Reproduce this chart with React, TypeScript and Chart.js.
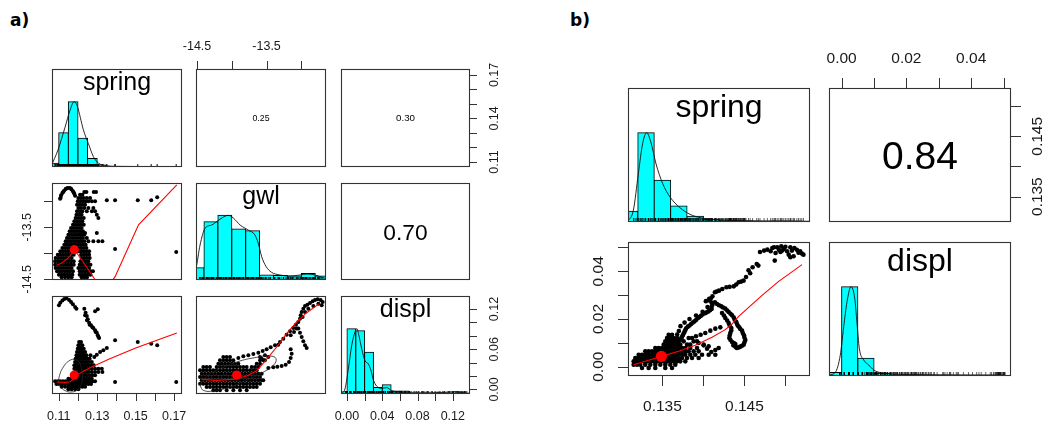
import React, { useEffect, useRef } from "react";
import { Chart, registerables } from "chart.js";
Chart.register(...registerables);

type P = [number, number];
type Row = [number, number[]];

// ================= Figure a) =================
const A_VARS = ["spring", "gwl", "displ"];
const A_COR = [0.25, 0.3, 0.7]; // spring-gwl, spring-displ, gwl-displ
const A_SPRING_LIM = [0.1065, 0.1741];
const A_GWL_LIM = [-14.515, -12.645];
const A_DISPL_LIM = [-0.0068, 0.1395];
const HIST_LIM = [0, 1.5];

const A_SPRING_TICKS = [0.11, 0.12, 0.13, 0.14, 0.15, 0.16, 0.17];
const A_SPRING_LABELS_RIGHT = ["0.11", "0.14", "0.17"];
const A_SPRING_LABELS_BOTTOM = ["0.11", "0.13", "0.15", "0.17"];
const A_GWL_TICKS = [-14.5, -14, -13.5, -13];
const A_GWL_LABELS = ["-14.5", "-13.5"];
const A_DISPL_TICKS = [0, 0.02, 0.04, 0.06, 0.08, 0.1, 0.12];
const A_DISPL_LABELS_BOTTOM = ["0.00", "0.04", "0.08", "0.12"];
const A_DISPL_LABELS_RIGHT = ["0.00", "0.06", "0.12"];

// histograms (heights relative to tallest bar)
const A_SPRING_BREAKS = [0.105, 0.11, 0.115, 0.12, 0.125, 0.13, 0.135, 0.14, 0.145, 0.15, 0.155, 0.16, 0.165, 0.17, 0.175];
const A_SPRING_HIST = [0.057, 0.525, 1.0, 0.44, 0.13, 0.03, 0.006, 0, 0, 0.004, 0.004, 0.004, 0, 0.004];
const A_GWL_BREAKS = [-14.6, -14.4, -14.2, -14.0, -13.8, -13.6, -13.4, -13.2, -13.0, -12.8, -12.6];
const A_GWL_HIST = [0.19, 0.9, 1.0, 0.79, 0.76, 0.077, 0.068, 0.06, 0.1, 0.06];
const A_DISPL_BREAKS = [-0.01, 0, 0.01, 0.02, 0.03, 0.04, 0.05, 0.06, 0.07, 0.08, 0.09, 0.1, 0.11, 0.12, 0.13, 0.14];
const A_DISPL_HIST = [0.035, 1.0, 0.97, 0.64, 0.1, 0.14, 0.047, 0.047, 0.015, 0.015, 0.012, 0.012, 0.02, 0.02, 0.015];

// density curves (relative)
const A_SPRING_DENS: P[] = [[0.106, 0.01], [0.1096, 0.26], [0.1133, 0.61], [0.1159, 0.87], [0.118, 1.0], [0.1197, 0.93], [0.1212, 0.76], [0.1228, 0.57], [0.1254, 0.36], [0.128, 0.16], [0.1306, 0.06], [0.1349, 0.02], [0.14, 0.01], [0.175, 0.005]];
const A_GWL_DENS: P[] = [[-14.58, 0.04], [-14.515, 0.18], [-14.457, 0.54], [-14.385, 0.8], [-14.29, 0.85], [-14.17, 0.94], [-14.05, 1.0], [-13.98, 0.96], [-13.88, 0.85], [-13.76, 0.77], [-13.67, 0.7], [-13.62, 0.57], [-13.57, 0.36], [-13.508, 0.21], [-13.43, 0.12], [-13.306, 0.077], [-13.163, 0.062], [-13.02, 0.077], [-12.92, 0.093], [-12.8, 0.077], [-12.66, 0.026]];
const A_DISPL_DENS: P[] = [[-0.008, 0.0], [-0.006, 0.01], [-0.0023, 0.077], [0.0015, 0.38], [0.0053, 0.74], [0.0099, 0.98], [0.0113, 1.0], [0.0136, 0.89], [0.0167, 0.69], [0.0204, 0.51], [0.0242, 0.46], [0.0272, 0.36], [0.0298, 0.22], [0.0337, 0.12], [0.0394, 0.087], [0.045, 0.098], [0.0507, 0.052], [0.062, 0.026], [0.081, 0.015], [0.111, 0.026], [0.1225, 0.036], [0.1358, 0.01]];

// means
const A_MEAN_SPRING = 0.1181;
const A_MEAN_GWL = -13.93;
const A_MEAN_DISPL = 0.0215;

// spring (x) vs gwl (y): rows of [gwl, spring values]
const A_SG_ROWS: Row[] = [
  [-12.818, [0.1233, 0.1244, 0.1282, 0.1294]],
  [-12.87, [0.1211, 0.1223]],
  [-12.934, [0.1202, 0.1216, 0.123, 0.1246, 0.1263]],
  [-12.998, [0.1199, 0.1213, 0.1226, 0.124, 0.1254, 0.1272, 0.1289]],
  [-13.063, [0.1195, 0.1209, 0.1223, 0.1237]],
  [-13.127, [0.1202, 0.1216, 0.1233, 0.1254, 0.128]],
  [-13.191, [0.1195, 0.1209, 0.1223, 0.1246, 0.1272, 0.1289]],
  [-13.255, [0.1192, 0.1206, 0.1219, 0.1298]],
  [-13.32, [0.1188, 0.1202, 0.1216, 0.123, 0.1306]],
  [-13.384, [0.1181, 0.1195, 0.1209, 0.1223]],
  [-13.448, [0.1174, 0.1188, 0.1202, 0.1216, 0.123]],
  [-13.512, [0.1164, 0.1178, 0.1192, 0.1206, 0.1219]],
  [-13.577, [0.1157, 0.1171, 0.1185, 0.1199, 0.1213, 0.1226]],
  [-13.609, [0.1237, 0.1298]],
  [-13.641, [0.115, 0.1164, 0.1178, 0.1192, 0.1206, 0.1219, 0.1233]],
  [-13.705, [0.1143, 0.1157, 0.1171, 0.1185, 0.1199, 0.1213, 0.1226, 0.1246]],
  [-13.769, [0.1136, 0.115, 0.1164, 0.1178, 0.1192, 0.1206, 0.1219, 0.1233, 0.1254, 0.128, 0.1306, 0.1327]],
  [-13.834, [0.1129, 0.1143, 0.1157, 0.1171, 0.1185, 0.1199, 0.1213, 0.1226, 0.124]],
  [-13.898, [0.1119, 0.1133, 0.1147, 0.116, 0.1174, 0.1202, 0.1216, 0.123, 0.1244]],
  [-13.917, [0.1393]],
  [-13.962, [0.1108, 0.1122, 0.1136, 0.115, 0.1164, 0.1178, 0.1202, 0.1216, 0.123, 0.1244, 0.1258]],
  [-13.975, [0.1711]],
  [-14.026, [0.1095, 0.1108, 0.1122, 0.1136, 0.115, 0.1164, 0.1178, 0.1216, 0.123, 0.1244, 0.1258]],
  [-14.091, [0.1084, 0.1098, 0.1112, 0.1126, 0.114, 0.1154, 0.1167, 0.1219, 0.1233, 0.1247, 0.1261]],
  [-14.155, [0.1081, 0.1095, 0.1108, 0.1122, 0.1136, 0.115, 0.1164, 0.1178, 0.1213, 0.1226, 0.124, 0.1254]],
  [-14.219, [0.1081, 0.1095, 0.1108, 0.1122, 0.1136, 0.115, 0.1164, 0.1178, 0.1209, 0.1223, 0.1237, 0.1251, 0.1265]],
  [-14.284, [0.1084, 0.1098, 0.1112, 0.1126, 0.114, 0.1154, 0.1167, 0.1202, 0.1216, 0.123, 0.1244, 0.1258]],
  [-14.348, [0.1091, 0.1105, 0.1119, 0.1133, 0.1147, 0.116, 0.1174, 0.1209, 0.1223, 0.1237, 0.1251, 0.1265, 0.1278]],
  [-14.412, [0.1101, 0.1115, 0.1129, 0.1143, 0.1157, 0.1171, 0.1209, 0.1223, 0.1237, 0.1251, 0.1265]],
  [-14.463, [0.1115, 0.1133, 0.115, 0.1167, 0.1219, 0.1233, 0.1247]],
  [-12.979, [0.135, 0.1393, 0.1511, 0.1581]],
  [-12.921, [0.1612]],
];
const A_SG_HOOK: P[] = [
  [0.1107, -12.947], [0.1112, -12.883], [0.1119, -12.838], [0.1128, -12.793], [0.1136, -12.761], [0.1147, -12.741],
  [0.1157, -12.741], [0.1166, -12.767], [0.1174, -12.806], [0.1181, -12.851], [0.1185, -12.889],
  [0.111, -12.93], [0.1123, -12.82], [0.114, -12.75], [0.1162, -12.75], [0.1178, -12.83],
];
const A_SG_SMOOTH: P[] = [[0.1089, -14.23], [0.1115, -14.19], [0.115, -14.09], [0.1181, -13.95], [0.1193, -13.99], [0.1237, -14.22], [0.1289, -14.51], [0.1335, -14.76], [0.1393, -14.45], [0.1515, -13.45], [0.1714, -12.68]];

// spring (x) vs displ (y): rows of [displ, spring values]
const A_SD_ROWS: Row[] = [
  [0.0708, [0.1206, 0.1216]],
  [0.0659, [0.1202, 0.1213, 0.1223]],
  [0.0609, [0.1199, 0.1209, 0.1219, 0.123]],
  [0.0559, [0.1195, 0.1206, 0.1216, 0.1226, 0.1237]],
  [0.0509, [0.1192, 0.1202, 0.1213, 0.1223, 0.1233, 0.1244, 0.1265]],
  [0.046, [0.1188, 0.1199, 0.1209, 0.1219, 0.123, 0.124, 0.1251, 0.1261]],
  [0.041, [0.1185, 0.1195, 0.1206, 0.1216, 0.1226, 0.1237, 0.1247, 0.1258, 0.1272]],
  [0.036, [0.1181, 0.1192, 0.1202, 0.1213, 0.1223, 0.1233, 0.1244, 0.1254, 0.1268, 0.1282]],
  [0.031, [0.1181, 0.1192, 0.1202, 0.1213, 0.1223, 0.1233, 0.1244, 0.1258, 0.1272, 0.1289, 0.1306, 0.1324]],
  [0.026, [0.1185, 0.1195, 0.1206, 0.1216, 0.1226, 0.124, 0.1254, 0.1272, 0.1289, 0.1306, 0.1327]],
  [0.0211, [0.1188, 0.1199, 0.1209, 0.1219, 0.1233, 0.1247, 0.1261, 0.1275, 0.1289]],
  [0.0161, [0.115, 0.1167, 0.1188, 0.1202, 0.1216, 0.123, 0.1244, 0.1258, 0.1272]],
  [0.0121, [0.1081, 0.1095, 0.1108, 0.1122, 0.1136, 0.115, 0.1164, 0.1178, 0.1192, 0.1206, 0.1219, 0.1233, 0.1247, 0.1261, 0.1275, 0.1289]],
  [0.0081, [0.1088, 0.1101, 0.1115, 0.1129, 0.1143, 0.1157, 0.1171, 0.1185, 0.1199, 0.1213, 0.1226, 0.124, 0.1254, 0.1268]],
  [0.0042, [0.1115, 0.1133, 0.115, 0.1167, 0.1181, 0.1195, 0.1209, 0.1223, 0.1237]],
  [0.0002, [0.115, 0.1167, 0.1185, 0.1202]],
  [0.0111, [0.1393, 0.1711]],
];
const A_SD_EXTRA: P[] = [
  [0.1101, 0.1256], [0.1108, 0.1296], [0.1119, 0.1326], [0.1129, 0.135], [0.1141, 0.136], [0.1154, 0.1335], [0.1164, 0.1306], [0.1174, 0.1271], [0.1185, 0.1231], [0.1192, 0.1206],
  [0.1233, 0.1206], [0.1289, 0.1166], [0.1303, 0.1196], [0.124, 0.1146], [0.1246, 0.1097], [0.1251, 0.1047], [0.1258, 0.0997], [0.1268, 0.0957], [0.128, 0.0917], [0.1289, 0.0883], [0.1298, 0.0848], [0.1303, 0.0808], [0.131, 0.0768],
  [0.1237, 0.1107], [0.1247, 0.1032], [0.1261, 0.0967], [0.1275, 0.0927], [0.1292, 0.0858], [0.1306, 0.0788],
  [0.1393, 0.0733], [0.1511, 0.0708], [0.1581, 0.0684], [0.1612, 0.0659],
  [0.135, 0.0619], [0.1332, 0.0584], [0.1315, 0.0559], [0.1298, 0.0519], [0.1285, 0.0484],
];
const A_SD_SMOOTH: P[] = [[0.1089, 0.0111], [0.1133, 0.0106], [0.116, 0.0116], [0.1178, 0.016], [0.12, 0.0225], [0.126, 0.032], [0.136, 0.045], [0.15, 0.062], [0.1714, 0.0843]];
const A_SD_ELLIPSE: P[] = [[0.1098, 0.0121], [0.1107, 0.0236], [0.1124, 0.0335], [0.115, 0.042], [0.1181, 0.045], [0.1206, 0.041], [0.1219, 0.031], [0.1223, 0.0186], [0.1216, 0.0071], [0.1199, -0.0003], [0.1167, -0.0038], [0.1133, -0.0018], [0.111, 0.0037], [0.1098, 0.0121]];

// gwl (x) vs displ (y): rows of [displ, gwl values]
const A_GD_ROWS: Row[] = [
  [0.0484, [-14.122, -14.074, -14.026]],
  [0.0435, [-14.17, -14.122, -14.074, -14.026, -13.978, -13.594, -13.547]],
  [0.0385, [-14.194, -14.146, -14.098, -14.05, -14.002, -13.954, -13.906, -13.642, -13.594]],
  [0.0335, [-14.41, -14.362, -14.314, -14.218, -14.17, -14.122, -14.074, -14.026, -13.978, -13.93, -13.882, -13.834, -13.786, -13.714, -13.666, -13.618]],
  [0.0285, [-14.457, -14.41, -14.362, -14.314, -14.266, -14.218, -14.17, -14.122, -14.074, -14.026, -13.978, -13.93, -13.882, -13.834, -13.786, -13.738, -13.69, -13.642]],
  [0.0236, [-14.433, -14.386, -14.338, -14.29, -14.242, -14.194, -14.146, -14.098, -14.05, -14.002, -13.954, -13.906, -13.858, -13.81, -13.762, -13.714, -13.666, -13.618, -13.57]],
  [0.0186, [-14.457, -14.41, -14.362, -14.314, -14.266, -14.218, -14.17, -14.122, -14.074, -14.026, -13.978, -13.93, -13.882, -13.834, -13.786, -13.738, -13.69, -13.642, -13.594]],
  [0.0136, [-14.433, -14.386, -14.338, -14.29, -14.242, -14.194, -14.146, -14.098, -14.05, -14.002, -13.954, -13.906, -13.858, -13.81, -13.762, -13.714, -13.666, -13.618, -13.57, -13.547]],
  [0.0086, [-14.457, -14.41, -14.362, -14.314, -14.266, -14.218, -14.17, -14.122, -14.074, -14.026, -13.978, -13.93, -13.882, -13.834, -13.786, -13.738, -13.69, -13.642, -13.594]],
  [0.0037, [-14.362, -14.314, -14.266, -14.218, -14.17, -14.122, -14.074, -14.026, -13.978, -13.93, -13.882, -13.834, -13.786, -13.738, -13.69, -13.642]],
  [-0.0013, [-14.266, -14.218, -14.17, -14.074, -13.978, -13.882, -13.786]],
];
const A_GD_EXTRA: P[] = [
  [-13.906, 0.047], [-13.834, 0.0494], [-13.762, 0.0509], [-13.69, 0.0529], [-13.618, 0.0549], [-13.556, 0.0574], [-13.499, 0.0599], [-13.441, 0.0629], [-13.379, 0.0659], [-13.331, 0.0669],
  [-13.523, 0.0509], [-13.594, 0.0484], [-13.57, 0.046], [-13.523, 0.0435], [-13.475, 0.0484],
  [-13.307, 0.0708], [-13.259, 0.0758], [-13.211, 0.0818], [-13.163, 0.0868], [-13.115, 0.0917], [-13.077, 0.0967], [-13.043, 0.1007], [-13.019, 0.1057], [-13.009, 0.1107], [-12.995, 0.1156],
  [-12.971, 0.1206], [-12.947, 0.1246], [-12.913, 0.1266], [-12.875, 0.1291], [-12.837, 0.1316], [-12.803, 0.1335], [-12.765, 0.1345], [-12.722, 0.1335], [-12.693, 0.1306], [-12.707, 0.1256],
  [-12.755, 0.1281], [-12.827, 0.1246], [-12.899, 0.1206], [-12.947, 0.1156], [-12.981, 0.1082], [-13.067, 0.0908], [-13.105, 0.0858], [-13.153, 0.0808],
  [-13.043, 0.0908], [-13.019, 0.0848], [-12.995, 0.0783], [-12.971, 0.0718], [-12.947, 0.0659], [-12.923, 0.0619],
  [-13.475, 0.032], [-13.403, 0.033], [-13.345, 0.034], [-13.283, 0.035], [-13.225, 0.037], [-13.177, 0.041], [-13.153, 0.0469], [-13.139, 0.0534], [-13.153, 0.0599],
];
const A_GD_SMOOTH: P[] = [[-14.433, 0.0151], [-14.218, 0.0136], [-13.978, 0.0151], [-13.786, 0.0201], [-13.642, 0.028], [-13.499, 0.045], [-13.355, 0.0634], [-13.211, 0.0833], [-13.067, 0.1007], [-12.923, 0.1146], [-12.741, 0.1281]];
const A_GD_ELLIPSE: P[] = [[-14.457, 0.0061], [-14.41, 0.0151], [-14.266, 0.026], [-14.074, 0.035], [-13.882, 0.0425], [-13.642, 0.0479], [-13.451, 0.0499], [-13.364, 0.046], [-13.403, 0.036], [-13.57, 0.0246], [-13.786, 0.0136], [-14.026, 0.0037], [-14.266, -0.0023], [-14.41, -0.0013], [-14.457, 0.0061]];

// ================= Figure b) =================
const B_VARS = ["spring", "displ"];
const B_COR = [0.84];
const B_SPRING_LIM = [0.1308, 0.153];
const B_DISPL_LIM = [-0.0039, 0.0523];
const B_SPRING_TICKS = [0.135, 0.14, 0.145, 0.15];
const B_SPRING_LABELS = ["0.135", "0.145"];
const B_DISPL_TICKS = [0, 0.01, 0.02, 0.03, 0.04, 0.05];
const B_DISPL_LABELS = ["0.00", "0.02", "0.04"];

const B_SPRING_BREAKS = [0.13, 0.132, 0.134, 0.136, 0.138, 0.14, 0.142, 0.144, 0.146, 0.148, 0.15, 0.152, 0.154];
const B_SPRING_HIST = [0.12, 1.0, 0.467, 0.18, 0.064, 0.03, 0.02, 0.012, 0.008, 0.012, 0.01, 0.005];
const B_DISPL_BREAKS = [-0.005, 0, 0.005, 0.01, 0.015, 0.02, 0.025, 0.03, 0.035, 0.04, 0.045, 0.05, 0.055];
const B_DISPL_HIST = [0.038, 1.0, 0.2, 0.03, 0.012, 0.01, 0.006, 0.005, 0.004, 0.004, 0.008, 0.004];
const B_SPRING_DENS: P[] = [[0.1305, 0.0], [0.13084, 0.019], [0.13145, 0.13], [0.13206, 0.54], [0.13259, 0.88], [0.13308, 1.0], [0.13357, 0.9], [0.13422, 0.65], [0.13503, 0.43], [0.13592, 0.28], [0.13714, 0.16], [0.13836, 0.086], [0.1398, 0.045], [0.14162, 0.027], [0.14406, 0.016], [0.153, 0.008]];
const B_DISPL_DENS: P[] = [[-0.004, 0.011], [-0.00195, 0.041], [-0.00041, 0.235], [0.00064, 0.55], [0.00166, 0.83], [0.0029, 1.0], [0.00404, 0.87], [0.00475, 0.59], [0.00546, 0.31], [0.0068, 0.18], [0.00836, 0.123], [0.0099, 0.067], [0.0119, 0.038], [0.0156, 0.022], [0.0248, 0.015], [0.0505, 0.011]];
const B_MEAN_SPRING = 0.13487;
const B_MEAN_DISPL = 0.00434;

// spring (x) vs displ (y): rows of [displ, spring values]
const B_SD_ROWS: Row[] = [
  [0.01343, [0.13576, 0.13617]],
  [0.01203, [0.13556, 0.13596, 0.13637, 0.13678, 0.13861]],
  [0.01064, [0.13535, 0.13576, 0.13617, 0.13657, 0.13698, 0.13759, 0.13922]],
  [0.00924, [0.13515, 0.13556, 0.13596, 0.13637, 0.13678, 0.13718, 0.138]],
  [0.00784, [0.13413, 0.13454, 0.13495, 0.13535, 0.13576, 0.13617, 0.13657, 0.13698, 0.13739, 0.13779, 0.1384]],
  [0.00644, [0.13291, 0.13332, 0.13373, 0.13413, 0.13454, 0.13495, 0.13535, 0.13576, 0.13617, 0.13657, 0.13698, 0.13739, 0.13779, 0.1382, 0.13881, 0.13942]],
  [0.00504, [0.1321, 0.13251, 0.13291, 0.13332, 0.13373, 0.13413, 0.13454, 0.13495, 0.13535, 0.13576, 0.13617, 0.13657, 0.13698, 0.13739, 0.13779, 0.1384, 0.13901, 0.13983, 0.14064, 0.14145]],
  [0.00365, [0.13169, 0.1321, 0.13251, 0.13291, 0.13332, 0.13373, 0.13413, 0.13454, 0.13495, 0.13535, 0.13576, 0.13617, 0.13657, 0.13698, 0.13739, 0.138, 0.13861, 0.13942]],
  [0.00225, [0.13149, 0.1319, 0.1323, 0.13271, 0.13312, 0.13352, 0.13393, 0.13434, 0.13474, 0.13515, 0.13556, 0.13596, 0.13637, 0.13678, 0.13718, 0.13779]],
  [0.00085, [0.13149, 0.1319, 0.1323, 0.13291, 0.13352, 0.13413, 0.13474, 0.13535, 0.13596, 0.13657]],
  [-0.00055, [0.13251, 0.13332, 0.13413, 0.13535, 0.13617]],
];
const B_SD_EXTRA: P[] = [
  [0.1469, 0.0481], [0.1474, 0.0487], [0.1478, 0.0491], [0.1482, 0.0484], [0.1484, 0.0498], [0.1486, 0.0501], [0.149, 0.0501], [0.1492, 0.049], [0.1495, 0.0505], [0.1498, 0.0494],
  [0.15, 0.0503], [0.1502, 0.0484], [0.1506, 0.0501], [0.1508, 0.0487], [0.1511, 0.0498], [0.1514, 0.049], [0.1516, 0.0478], [0.152, 0.0475], [0.1522, 0.047], [0.1488, 0.0477],
  [0.1494, 0.0481], [0.1504, 0.047], [0.151, 0.0463], [0.1518, 0.0484], [0.1487, 0.0445], [0.1506, 0.0459], [0.1496, 0.0487],
  [0.1465, 0.0431], [0.146, 0.0417], [0.1455, 0.0404], [0.1457, 0.0392], [0.1449, 0.0361], [0.1443, 0.0354], [0.1437, 0.0337], [0.1428, 0.0333], [0.1419, 0.0319], [0.1414, 0.0312],
  [0.1467, 0.0424], [0.1452, 0.0376], [0.1446, 0.0357], [0.144, 0.0345], [0.1432, 0.0335], [0.1423, 0.0326], [0.1416, 0.0315],
  [0.1411, 0.0295], [0.1408, 0.0277], [0.1411, 0.026], [0.141, 0.0242], [0.1406, 0.0232], [0.1402, 0.0224], [0.1397, 0.0214], [0.1393, 0.0203], [0.1389, 0.019], [0.1385, 0.0179],
  [0.1381, 0.0168], [0.1378, 0.0154], [0.1376, 0.014], [0.1374, 0.0126], [0.1372, 0.0113], [0.1407, 0.0285], [0.1414, 0.027],
  [0.1409, 0.0286], [0.141, 0.0268], [0.141, 0.0251], [0.1408, 0.0237], [0.1404, 0.0228], [0.1399, 0.0219], [0.1395, 0.0208], [0.1391, 0.0196], [0.1387, 0.0185], [0.1383, 0.0173],
  [0.1379, 0.0161], [0.1377, 0.0147], [0.1375, 0.0133], [0.1373, 0.012],
  [0.1403, 0.0275], [0.1405, 0.025], [0.1399, 0.023], [0.1391, 0.0215], [0.1383, 0.02], [0.1377, 0.0185], [0.1372, 0.017], [0.137, 0.015], [0.1368, 0.0135],
  [0.14166, 0.0263], [0.14218, 0.02532], [0.14267, 0.02434], [0.14308, 0.02294], [0.14349, 0.02155], [0.14381, 0.01972], [0.1441, 0.01791], [0.14438, 0.01651], [0.14471, 0.01511],
  [0.14495, 0.01316], [0.14511, 0.0112], [0.14491, 0.00924], [0.1445, 0.0084], [0.14406, 0.00784], [0.14365, 0.00896],
  [0.1419, 0.0258], [0.1424, 0.0248], [0.1429, 0.0236], [0.1433, 0.0222], [0.1437, 0.0206], [0.144, 0.0188], [0.1442, 0.0172], [0.1445, 0.0158], [0.1448, 0.0141],
  [0.145, 0.0122], [0.145, 0.0102], [0.1447, 0.0088], [0.1443, 0.0081], [0.1439, 0.0084],
  [0.14227, 0.02252], [0.14267, 0.02042], [0.14308, 0.01833], [0.1434, 0.01623], [0.14328, 0.01413], [0.14316, 0.01203], [0.14349, 0.01036], [0.14389, 0.00952],
  [0.1425, 0.0215], [0.1429, 0.0194], [0.1432, 0.0173], [0.1434, 0.0152], [0.1432, 0.0131], [0.1433, 0.0112], [0.1437, 0.0099],
  [0.14186, 0.00784], [0.14145, 0.007], [0.14096, 0.00617], [0.14044, 0.00756], [0.14003, 0.00896],
  [0.13909, 0.01274], [0.13966, 0.01343], [0.14023, 0.01413], [0.14084, 0.01511], [0.14145, 0.01595], [0.14206, 0.01651],
  [0.1382, 0.01203], [0.13881, 0.01064], [0.13942, 0.00994], [0.14003, 0.00924], [0.14064, 0.00854], [0.1384, 0.00924], [0.13922, 0.00784],
];
const B_SD_SMOOTH: P[] = [[0.13149, 0.00085], [0.13291, 0.00225], [0.13487, 0.00434], [0.13698, 0.00644], [0.13901, 0.00896], [0.14105, 0.01232], [0.14267, 0.01553], [0.14349, 0.01791], [0.1443, 0.02112], [0.14552, 0.0249], [0.14715, 0.02993], [0.14918, 0.0358], [0.15203, 0.04279]];

// ================= helpers =================
const fromRows = (rows: Row[]) => rows.flatMap(([y, xs]) => xs.map((x) => ({ x, y })));
const fromPairs = (ps: P[]) => ps.map(([x, y]) => ({ x, y }));

const A_SG_POINTS = [...fromRows(A_SG_ROWS), ...fromPairs(A_SG_HOOK)];
const A_SD_POINTS = [...fromRows(A_SD_ROWS), ...fromPairs(A_SD_EXTRA)];
const A_GD_POINTS = [...fromRows(A_GD_ROWS), ...fromPairs(A_GD_EXTRA)];
const B_SD_POINTS = [...fromRows(B_SD_ROWS), ...fromPairs(B_SD_EXTRA)];

const A_RUG_SPRING = [...A_SG_POINTS.map((p) => p.x), ...A_SD_POINTS.map((p) => p.x)];
const A_RUG_GWL = [...A_SG_POINTS.map((p) => p.y), ...A_GD_POINTS.map((p) => p.x)];
const A_RUG_DISPL = [...A_SD_POINTS.map((p) => p.y), ...A_GD_POINTS.map((p) => p.y)];
const B_RUG_SPRING = B_SD_POINTS.map((p) => p.x);
const B_RUG_DISPL = B_SD_POINTS.map((p) => p.y);

const M = 50;
const FONT = '"Liberation Sans", Arial, Helvetica, sans-serif';

type AxisSpec = { scale: "ax" | "ay"; side: "top" | "bottom" | "left" | "right"; ticks: number[]; labels: string[]; font: number; tickLen: number; off: number };
type TextSpec = { text: string; fx: number; fy: number; size: number; mode: "alpha" | "cap" };
type PanelSpec = { key: string; left: number; top: number; w: number; h: number; xr: number[]; yr: number[]; axr: number[]; ayr: number[]; datasets: any[]; axes: AxisSpec[]; texts: TextSpec[] };

function scatterSets(points: any[], smooth: P[], mean: P, ellipse: P[] | null, ptR: number, dotR: number) {
  const sets: any[] = [
    { type: "scatter", data: [{ x: mean[0], y: mean[1] }], pointRadius: dotR, pointBackgroundColor: "#FF0000", pointBorderWidth: 0, clip: 0 },
    { type: "line", data: fromPairs(smooth), borderColor: "#FF0000", borderWidth: 1.1, pointRadius: 0, tension: 0, fill: false, clip: 0 },
  ];
  if (ellipse) sets.push({ type: "line", data: fromPairs(ellipse), borderColor: "#222", borderWidth: 0.8, pointRadius: 0, tension: 0.45, fill: false, clip: 0 });
  sets.push({ type: "scatter", data: points, pointRadius: ptR, pointBackgroundColor: "#000", pointBorderWidth: 0, clip: 0 });
  return sets;
}

function histSets(breaks: number[], heights: number[], dens: P[], rug: number[], rugLen: number) {
  return [
    { type: "line", data: fromPairs(dens), borderColor: "#111", borderWidth: 0.9, pointRadius: 0, cubicInterpolationMode: "monotone", fill: false, clip: 0 },
    { type: "scatter", data: rug.map((x) => ({ x, y: 0 })), pointStyle: "line", pointRotation: 90, pointRadius: rugLen, pointBorderColor: "#000", pointBorderWidth: 0.6, clip: 0 },
    {
      type: "bar",
      data: heights.map((h, i) => ({ x: (breaks[i] + breaks[i + 1]) / 2, y: h > 0 ? h : null })),
      backgroundColor: "#00FFFF", borderColor: "#000", borderWidth: 1, borderSkipped: false,
      barPercentage: 1, categoryPercentage: 1, inflateAmount: 0.5, clip: 0,
    },
  ];
}

// ---------- layout (figure a) ----------
const AX0 = [52, 196, 341];
const AW = [130, 130, 129];
const AY0 = [69, 183, 296];
const AH = [98, 97, 98];
const A_LIMS = [A_SPRING_LIM, A_GWL_LIM, A_DISPL_LIM];
const aCell = (r: number, c: number, rest: any): PanelSpec => ({
  key: `a${r}${c}`, left: AX0[c], top: AY0[r], w: AW[c], h: AH[r],
  xr: A_LIMS[c], yr: A_LIMS[r], axr: A_LIMS[c], ayr: A_LIMS[r], datasets: [], axes: [], texts: [], ...rest,
});
const aFs = 12.5;
const corText = (r: number, k: number): TextSpec => ({ text: r.toFixed(2), fx: 0.5, fy: 0.5, size: k * Math.abs(r), mode: "cap" });
const nameText = (t: string, size: number): TextSpec => ({ text: t, fx: 0.5, fy: 0.213, size, mode: "alpha" });

const SPECS: PanelSpec[] = [
  aCell(0, 0, { yr: HIST_LIM, datasets: histSets(A_SPRING_BREAKS, A_SPRING_HIST, A_SPRING_DENS, A_RUG_SPRING, 3), texts: [nameText(A_VARS[0], 25)] }),
  aCell(0, 1, { axes: [{ scale: "ax", side: "top", ticks: A_GWL_TICKS, labels: A_GWL_LABELS, font: aFs, tickLen: 8, off: 22 }], texts: [corText(A_COR[0], 35)] }),
  aCell(0, 2, { axes: [{ scale: "ay", side: "right", ticks: A_SPRING_TICKS, labels: A_SPRING_LABELS_RIGHT, font: aFs, tickLen: 7, off: 25 }], texts: [corText(A_COR[1], 32.5)] }),
  aCell(1, 0, {
    datasets: scatterSets(A_SG_POINTS, A_SG_SMOOTH, [A_MEAN_SPRING, A_MEAN_GWL], null, 2, 4.6),
    axes: [{ scale: "ay", side: "left", ticks: A_GWL_TICKS, labels: A_GWL_LABELS, font: aFs, tickLen: 8, off: 24 }],
  }),
  aCell(1, 1, { yr: HIST_LIM, datasets: histSets(A_GWL_BREAKS, A_GWL_HIST, A_GWL_DENS, A_RUG_GWL, 3), texts: [nameText(A_VARS[1], 25)] }),
  aCell(1, 2, { texts: [corText(A_COR[2], 32.5)] }),
  aCell(2, 0, {
    datasets: scatterSets(A_SD_POINTS, A_SD_SMOOTH, [A_MEAN_SPRING, A_MEAN_DISPL], A_SD_ELLIPSE, 2, 4.6),
    axes: [{ scale: "ax", side: "bottom", ticks: A_SPRING_TICKS, labels: A_SPRING_LABELS_BOTTOM, font: aFs, tickLen: 7, off: 23 }],
  }),
  aCell(2, 1, { datasets: scatterSets(A_GD_POINTS, A_GD_SMOOTH, [A_MEAN_GWL, A_MEAN_DISPL], A_GD_ELLIPSE, 2, 4.6) }),
  aCell(2, 2, {
    yr: HIST_LIM, datasets: histSets(A_DISPL_BREAKS, A_DISPL_HIST, A_DISPL_DENS, A_RUG_DISPL, 3), texts: [nameText(A_VARS[2], 25)],
    axes: [
      { scale: "ax", side: "bottom", ticks: A_DISPL_TICKS, labels: A_DISPL_LABELS_BOTTOM, font: aFs, tickLen: 7, off: 23 },
      { scale: "ay", side: "right", ticks: A_DISPL_TICKS, labels: A_DISPL_LABELS_RIGHT, font: aFs, tickLen: 7, off: 25 },
    ],
  }),
];

// ---------- layout (figure b) ----------
const BX0 = [628, 829];
const BY0 = [88, 242];
const BW = 182;
const BH = 134;
const B_LIMS = [B_SPRING_LIM, B_DISPL_LIM];
const bFs = 15.5;
const bCell = (r: number, c: number, rest: any): PanelSpec => ({
  key: `b${r}${c}`, left: BX0[c], top: BY0[r], w: BW, h: BH,
  xr: B_LIMS[c], yr: B_LIMS[r], axr: B_LIMS[c], ayr: B_LIMS[r], datasets: [], axes: [], texts: [], ...rest,
});
SPECS.push(
  bCell(0, 0, { yr: HIST_LIM, datasets: histSets(B_SPRING_BREAKS, B_SPRING_HIST, B_SPRING_DENS, B_RUG_SPRING, 4), texts: [nameText(B_VARS[0], 32)] }),
  bCell(0, 1, {
    texts: [corText(B_COR[0], 46.4)],
    axes: [
      { scale: "ax", side: "top", ticks: B_DISPL_TICKS, labels: B_DISPL_LABELS, font: bFs, tickLen: 10, off: 29 },
      { scale: "ay", side: "right", ticks: B_SPRING_TICKS, labels: B_SPRING_LABELS, font: bFs, tickLen: 10, off: 27 },
    ],
  }),
  bCell(1, 0, {
    datasets: scatterSets(B_SD_POINTS, B_SD_SMOOTH, [B_MEAN_SPRING, B_MEAN_DISPL], null, 2.3, 5.6),
    axes: [
      { scale: "ay", side: "left", ticks: B_DISPL_TICKS, labels: B_DISPL_LABELS, font: bFs, tickLen: 10, off: 29 },
      { scale: "ax", side: "bottom", ticks: B_SPRING_TICKS, labels: B_SPRING_LABELS, font: bFs, tickLen: 10, off: 30.5 },
    ],
  }),
  bCell(1, 1, { yr: HIST_LIM, datasets: histSets(B_DISPL_BREAKS, B_DISPL_HIST, B_DISPL_DENS, B_RUG_DISPL, 4), texts: [nameText(B_VARS[1], 32)] }),
);

function framePlugin(spec: PanelSpec) {
  return {
    id: "rframe",
    afterDraw(chart: any) {
      const ctx = chart.ctx as CanvasRenderingContext2D;
      const ca = chart.chartArea;
      const w = ca.right - ca.left;
      const h = ca.bottom - ca.top;
      ctx.save();
      ctx.strokeStyle = "#333";
      ctx.lineWidth = 1.1;
      ctx.strokeRect(ca.left + 0.5, ca.top + 0.5, w - 1, h - 1);
      for (const a of spec.axes) {
        const sc = chart.scales[a.scale];
        ctx.beginPath();
        for (const v of a.ticks) {
          const p = Math.round(sc.getPixelForValue(v)) + 0.5;
          if (a.side === "top") { ctx.moveTo(p, ca.top + 0.5); ctx.lineTo(p, ca.top - a.tickLen); }
          else if (a.side === "bottom") { ctx.moveTo(p, ca.bottom - 0.5); ctx.lineTo(p, ca.bottom + a.tickLen); }
          else if (a.side === "left") { ctx.moveTo(ca.left + 0.5, p); ctx.lineTo(ca.left - a.tickLen, p); }
          else { ctx.moveTo(ca.right - 0.5, p); ctx.lineTo(ca.right + a.tickLen, p); }
        }
        ctx.strokeStyle = "#333";
        ctx.lineWidth = 1;
        ctx.stroke();
        ctx.fillStyle = "#1a1a1a";
        ctx.font = `${a.font}px ${FONT}`;
        ctx.textAlign = "center";
        ctx.textBaseline = "middle";
        for (const s of a.labels) {
          const p = sc.getPixelForValue(parseFloat(s));
          if (a.side === "top") ctx.fillText(s, p, ca.top - a.off);
          else if (a.side === "bottom") ctx.fillText(s, p, ca.bottom + a.off);
          else {
            const x = a.side === "left" ? ca.left - a.off : ca.right + a.off;
            ctx.save();
            ctx.translate(x, p);
            ctx.rotate(-Math.PI / 2);
            ctx.fillText(s, 0, 0);
            ctx.restore();
          }
        }
      }
      for (const t of spec.texts) {
        ctx.fillStyle = "#000";
        ctx.font = `${t.size}px ${FONT}`;
        ctx.textAlign = "center";
        ctx.textBaseline = "alphabetic";
        const y = ca.top + t.fy * h + (t.mode === "cap" ? 0.358 * t.size : 0);
        ctx.fillText(t.text, ca.left + t.fx * w, y);
      }
      ctx.restore();
    },
  };
}

function Panel({ spec }: { spec: PanelSpec }) {
  const ref = useRef<HTMLCanvasElement>(null);
  useEffect(() => {
    const c = ref.current;
    if (!c) return;
    const noTicks = { afterBuildTicks: (s: any) => { s.ticks = []; } };
    const chart = new Chart(c, {
      type: "scatter",
      data: { datasets: spec.datasets },
      options: {
        animation: false,
        responsive: false,
        maintainAspectRatio: false,
        devicePixelRatio: 1,
        events: [],
        layout: { padding: M },
        plugins: { legend: { display: false }, tooltip: { enabled: false } },
        scales: {
          x: { type: "linear", min: spec.xr[0], max: spec.xr[1], display: false, ...noTicks },
          y: { type: "linear", min: spec.yr[0], max: spec.yr[1], display: false, ...noTicks },
          ax: { type: "linear", axis: "x", position: "bottom", min: spec.axr[0], max: spec.axr[1], display: false, ...noTicks },
          ay: { type: "linear", axis: "y", position: "left", min: spec.ayr[0], max: spec.ayr[1], display: false, ...noTicks },
        },
      },
      plugins: [framePlugin(spec)],
    } as any);
    return () => chart.destroy();
  }, [spec]);
  const W = spec.w + 2 * M;
  const H = spec.h + 2 * M;
  return (
    <canvas
      ref={ref}
      width={W}
      height={H}
      style={{ position: "absolute", left: spec.left - M, top: spec.top - M, width: W, height: H }}
    />
  );
}

export default function App() {
  const tag: React.CSSProperties = { position: "absolute", top: 9, font: 'bold 17px "DejaVu Sans", Verdana, sans-serif', lineHeight: "22px", color: "#000" };
  return (
    <div style={{ position: "fixed", left: 0, top: 0, width: 1051, height: 432, background: "#fff", overflow: "hidden" }}>
      <div style={{ ...tag, left: 10 }}>a)</div>
      <div style={{ ...tag, left: 570 }}>b)</div>
      {SPECS.map((s) => (
        <Panel key={s.key} spec={s} />
      ))}
    </div>
  );
}
